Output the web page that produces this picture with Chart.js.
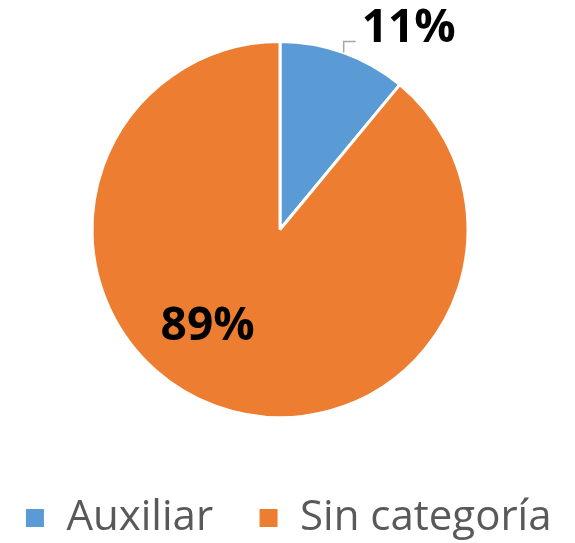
<!DOCTYPE html>
<html>
<head>
<meta charset="utf-8">
<script src="https://cdn.jsdelivr.net/npm/chart.js@4/dist/chart.umd.min.js"></script>
<style>
  html, body { margin: 0; padding: 0; background: #fff; }
  #wrap { width: 575px; height: 543px; }
</style>
</head>
<body>
<div id="wrap"><canvas id="chart"></canvas></div>
<script>
const categories = ["Auxiliar", "Sin categoría"];
const values = [11, 89];
const colors = ["#5B9BD5", "#ED7D31"];

// percentage labels: first one outside with a leader line, second inside
const pctLabels = {
  id: "pctLabels",
  afterDatasetsDraw(chart) {
    const ctx = chart.ctx;
    const meta = chart.getDatasetMeta(0);
    const total = values.reduce((a, b) => a + b, 0);
    ctx.save();
    ctx.font = "bold 46px 'Open Sans', sans-serif";
    ctx.fillStyle = "#000";
    ctx.textBaseline = "middle";
    meta.data.forEach((arc, i) => {
      const { x, y, startAngle, endAngle, outerRadius } = arc.getProps(["x", "y", "startAngle", "endAngle", "outerRadius"], true);
      const mid = (startAngle + endAngle) / 2;
      const txt = Math.round(values[i] / total * 100) + "%";
      if (i === 0) {
        const ex = x + Math.cos(mid) * outerRadius;
        const ey = y + Math.sin(mid) * outerRadius;
        ctx.strokeStyle = "#A6A6A6";
        ctx.lineWidth = 1.5;
        ctx.beginPath();
        ctx.moveTo(ex, ey);
        ctx.lineTo(ex, ey - 11);
        ctx.lineTo(ex + 12, ey - 11);
        ctx.stroke();
        ctx.textAlign = "left";
        ctx.fillText(txt, ex + 18, ey - 24);
      } else {
        ctx.textAlign = "center";
        ctx.fillText(txt, x - outerRadius * 0.385, y + outerRadius * 0.52);
      }
    });
    ctx.restore();
  }
};

// keep the legend on one row, give it a fixed band under the pie and centre it
const legendPlace = {
  id: "legendPlace",
  beforeInit(chart) {
    const fit = chart.legend.fit;
    chart.legend.fit = function () {
      const mw = this.maxWidth;
      this.maxWidth = 1000;
      fit.call(this);
      this.maxWidth = mw;
      this.width = mw;
      this.height = 124;
    };
  },
  afterLayout(chart) {
    const lg = chart.legend;
    const pad = lg.options.labels.padding;
    const lw = lg.lineWidths[0];
    const x0 = 288 - (lw - pad) / 2;   // where the first box should start
    const right = x0 + lw + 20;
    lg.right = right;
    lg.left = 2 * x0 - pad + lw - right;
    lg.width = lg.right - lg.left;
    lg.top += 33;
    lg.bottom += 33;
  }
};

new Chart(document.getElementById("chart"), {
  type: "pie",
  data: {
    labels: categories,
    datasets: [{
      data: values,
      backgroundColor: colors,
      borderColor: "#fff",
      borderWidth: 3
    }]
  },
  options: {
    responsive: true,
    maintainAspectRatio: false,
    animation: false,
    layout: { padding: { top: 40, left: 0, right: 15, bottom: 0 } },
    plugins: {
      tooltip: { enabled: false },
      legend: {
        position: "bottom",
        labels: {
          color: "#595959",
          font: { size: 42, family: "'Open Sans', sans-serif" },
          boxWidth: 21,
          boxHeight: 21,
          padding: 45
        }
      }
    }
  },
  plugins: [legendPlace, pctLabels]
});
</script>
</body>
</html>
